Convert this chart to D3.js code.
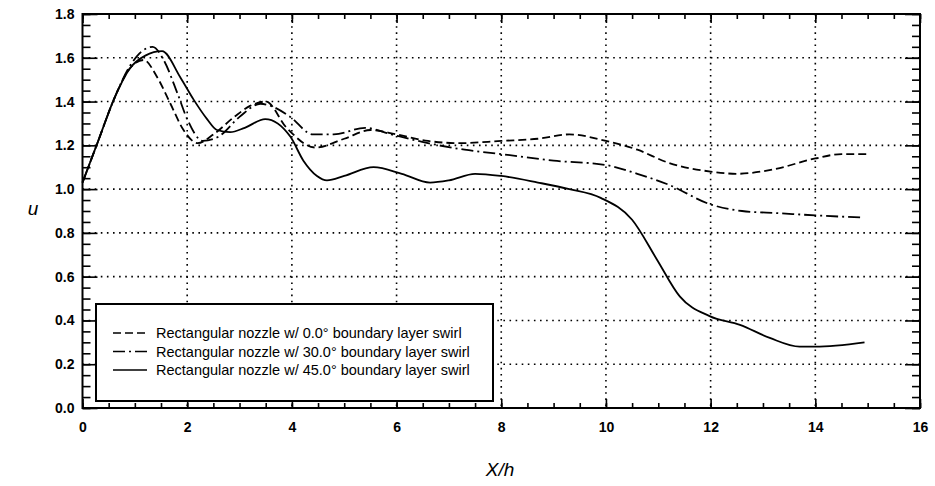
<!DOCTYPE html>
<html>
<head>
<meta charset="utf-8">
<script src="https://cdn.jsdelivr.net/npm/d3@7"></script>
<style>
  body { margin: 0; background: #fff; }
  svg text { font-family: "Liberation Sans", Arial, sans-serif; fill: #000; }
  .tick-label { font-size: 14px; font-weight: bold; }
  .legend text { font-size: 14.5px; }
  .axis-title { font-size: 19px; font-style: italic; }
</style>
</head>
<body>
<svg id="chart"></svg>
<script>
// Axial velocity u along X/h, three boundary layer swirl angles
const seriesNames = [
  "Rectangular nozzle w/ 0.0\u00b0 boundary layer swirl",
  "Rectangular nozzle w/ 30.0\u00b0 boundary layer swirl",
  "Rectangular nozzle w/ 45.0\u00b0 boundary layer swirl"
];

const x0 = [0, 0.3, 0.6, 0.9, 1.17, 1.43, 1.68, 1.93, 2.2, 2.5, 2.9, 3.2, 3.5, 3.9, 4.45, 5.0, 5.5, 6.0, 6.6, 7.2, 8.0, 8.7, 9.3, 10.0, 10.6, 11.2, 12.0, 12.5, 13.2, 14.0, 14.5, 15.0];
const u0 = [1.03, 1.22, 1.41, 1.55, 1.59, 1.51, 1.39, 1.27, 1.21, 1.25, 1.33, 1.38, 1.40, 1.28, 1.19, 1.23, 1.27, 1.25, 1.22, 1.21, 1.22, 1.23, 1.25, 1.22, 1.18, 1.12, 1.08, 1.07, 1.09, 1.14, 1.16, 1.16];

const x30 = [0, 0.3, 0.6, 0.9, 1.05, 1.34, 1.55, 1.81, 2.0, 2.3, 2.6, 3.0, 3.4, 3.6, 3.97, 4.4, 4.8, 5.4, 5.9, 6.6, 7.3, 8.0, 9.0, 10.0, 10.6, 11.2, 12.0, 12.6, 13.3, 14.0, 14.9];
const u30 = [1.03, 1.22, 1.41, 1.56, 1.61, 1.65, 1.59, 1.44, 1.32, 1.22, 1.24, 1.33, 1.39, 1.38, 1.33, 1.25, 1.25, 1.28, 1.25, 1.21, 1.18, 1.16, 1.13, 1.11, 1.07, 1.02, 0.93, 0.90, 0.89, 0.88, 0.87];

const x45 = [0, 0.3, 0.6, 0.9, 1.2, 1.52, 1.87, 2.12, 2.38, 2.57, 2.82, 3.1, 3.49, 3.97, 4.22, 4.48, 4.67, 5.0, 5.56, 6.1, 6.64, 7.0, 7.5, 8.0, 8.7, 9.3, 9.9, 10.5, 10.97, 11.41, 11.98, 12.56, 13.13, 13.7, 14.0, 14.94];
const u45 = [1.03, 1.22, 1.41, 1.55, 1.61, 1.63, 1.51, 1.41, 1.32, 1.27, 1.26, 1.28, 1.32, 1.24, 1.13, 1.06, 1.04, 1.06, 1.10, 1.07, 1.03, 1.04, 1.07, 1.06, 1.03, 1.00, 0.96, 0.86, 0.68, 0.51, 0.42, 0.38, 0.32, 0.28, 0.28, 0.30];

const xTicks = [0, 2, 4, 6, 8, 10, 12, 14, 16];
const yTicks = [0.0, 0.2, 0.4, 0.6, 0.8, 1.0, 1.2, 1.4, 1.6, 1.8];

const chartSize = { width: 935, height: 486 };
const margin = { left: 82.5, right: 15, top: 14, bottom: 78 };
const width = chartSize.width - margin.left - margin.right;
const height = chartSize.height - margin.top - margin.bottom;

const dashes = ["8,4", "12,4,2,4", null];

const svg = d3.select("#chart")
  .attr("width", chartSize.width)
  .attr("height", chartSize.height);

const g = svg.append("g")
  .attr("transform", `translate(${margin.left},${margin.top})`);

const x = d3.scaleLinear().domain([0, 16]).range([0, width]);
const y = d3.scaleLinear().domain([0, 1.8]).range([height, 0]);

// dotted grid at major ticks
g.append("g").selectAll("line")
  .data(xTicks.slice(1, -1))
  .join("line")
  .attr("x1", d => x(d)).attr("x2", d => x(d))
  .attr("y1", 0).attr("y2", height)
  .attr("stroke", "#000").attr("stroke-width", 1.6)
  .attr("stroke-dasharray", "1.6,4.5");

g.append("g").selectAll("line")
  .data(yTicks.slice(1, -1))
  .join("line")
  .attr("y1", d => y(d)).attr("y2", d => y(d))
  .attr("x1", 0).attr("x2", width)
  .attr("stroke", "#000").attr("stroke-width", 1.6)
  .attr("stroke-dasharray", "1.6,4.5");

// axes with inward ticks on all four sides
const xMinor = d3.range(0, 16.01, 0.5);
const yMinor = d3.range(0, 1.801, 0.05);

const axisStyle = sel => {
  sel.select(".domain").remove();
  sel.selectAll("line").attr("stroke", "#000").attr("stroke-width", 1.6);
};

g.append("g").attr("transform", `translate(0,${height})`)
  .call(d3.axisBottom(x).tickValues(xMinor).tickSize(-5).tickFormat(""))
  .call(axisStyle);
g.append("g")
  .call(d3.axisTop(x).tickValues(xMinor).tickSize(-5).tickFormat(""))
  .call(axisStyle);
g.append("g")
  .call(d3.axisLeft(y).tickValues(yMinor).tickSize(-8).tickFormat(""))
  .call(axisStyle);
g.append("g").attr("transform", `translate(${width},0)`)
  .call(d3.axisRight(y).tickValues(yMinor).tickSize(-8).tickFormat(""))
  .call(axisStyle);

g.append("g").attr("transform", `translate(0,${height})`)
  .call(d3.axisBottom(x).tickValues(xTicks).tickSize(-9).tickPadding(14).tickFormat(d3.format("d")))
  .call(axisStyle)
  .selectAll("text").attr("class", "tick-label");
g.append("g")
  .call(d3.axisLeft(y).tickValues(yTicks).tickSize(-15).tickPadding(8).tickFormat(d3.format(".1f")))
  .call(axisStyle)
  .selectAll("text").attr("class", "tick-label");
g.append("g").attr("transform", `translate(${width},0)`)
  .call(d3.axisRight(y).tickValues(yTicks).tickSize(-15).tickFormat(""))
  .call(axisStyle);
g.append("g")
  .call(d3.axisTop(x).tickValues(xTicks).tickSize(-9).tickFormat(""))
  .call(axisStyle);

g.append("rect")
  .attr("width", width).attr("height", height)
  .attr("fill", "none").attr("stroke", "#000").attr("stroke-width", 2);

// curves
const series = [[x0, u0], [x30, u30], [x45, u45]];
const line = d3.line()
  .x(d => x(d[0]))
  .y(d => y(d[1]))
  .curve(d3.curveMonotoneX);

g.append("g").selectAll("path")
  .data(series)
  .join("path")
  .attr("d", ([xs, us]) => line(d3.zip(xs, us)))
  .attr("fill", "none")
  .attr("stroke", "#000")
  .attr("stroke-width", 1.8)
  .attr("stroke-dasharray", (d, i) => dashes[i]);

// legend
const legend = svg.append("g").attr("class", "legend")
  .attr("transform", "translate(96,304)");

legend.append("rect")
  .attr("width", 397).attr("height", 97)
  .attr("fill", "#fff").attr("stroke", "#000").attr("stroke-width", 2);

const rows = legend.selectAll(".row")
  .data(seriesNames)
  .join("g")
  .attr("class", "row")
  .attr("transform", (d, i) => `translate(0,${29 + i * 18.5})`);

rows.append("line")
  .attr("x1", 17).attr("x2", 51)
  .attr("stroke", "#000").attr("stroke-width", 1.6)
  .attr("stroke-dasharray", (d, i) => dashes[i]);

rows.append("text")
  .attr("x", 60).attr("y", 5)
  .text(d => d);

// axis titles
svg.append("text")
  .attr("class", "axis-title")
  .attr("x", 500).attr("y", 476)
  .attr("text-anchor", "middle")
  .text("X/h");

svg.append("text")
  .attr("class", "axis-title")
  .attr("x", 33).attr("y", 215)
  .attr("text-anchor", "middle")
  .text("u");
</script>
</body>
</html>
